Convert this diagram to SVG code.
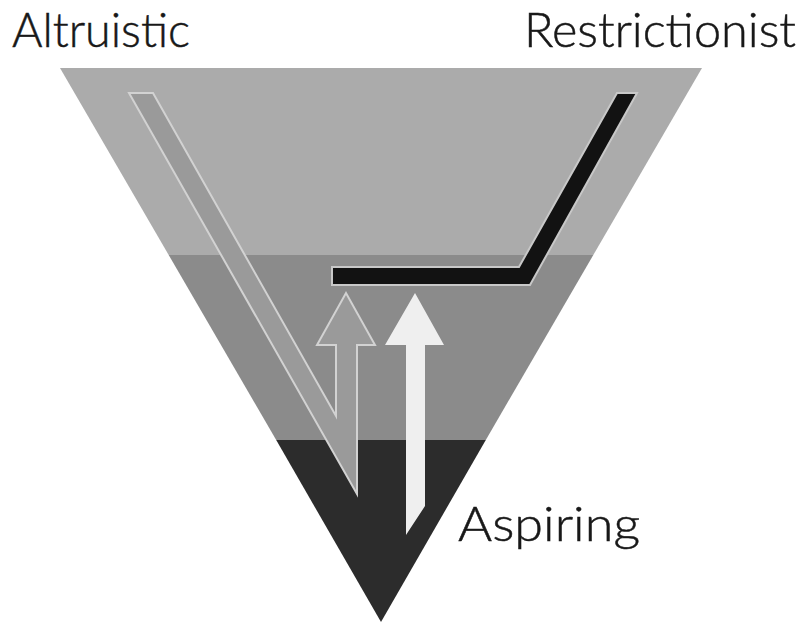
<svg xmlns="http://www.w3.org/2000/svg" width="804" height="626" viewBox="0 0 804 626">
  <style>
    .lbl { font-family: Lato, "Liberation Sans", sans-serif; font-weight: 300; font-size: 48px; fill: #181818; stroke: #181818; stroke-width: 0.5; }
    .band-top { fill: #ababab; }
    .band-mid { fill: #8b8b8b; }
    .band-bot { fill: #2c2c2c; }
    .path-alt { fill: #9a9a9a; stroke: #d2d2d2; stroke-width: 2; stroke-linejoin: miter; }
    .path-res { fill: #121212; stroke: #c8c8c8; stroke-width: 2; stroke-linejoin: miter; }
    .path-asp { fill: #efefef; }
  </style>
  <rect width="804" height="626" fill="#ffffff"/>
  <g id="pyramid">
    <polygon class="band-top" points="60,68 702,68 593.3,255 168.7,255"/>
    <polygon class="band-mid" points="168.7,255 593.3,255 485.8,440 276.2,440"/>
    <polygon class="band-bot" points="276.2,440 485.8,440 381,622"/>
  </g>
  <g id="connectors">
    <polygon id="altruistic-path" class="path-alt" points="129,93 153,93 336,416 336,345 317,345 346,293 375,345 357,345 357,494"/>
    <polygon id="restrictionist-path" class="path-res" points="332,267 519,267 617,93 637,93 530,285 332,285"/>
    <polygon id="aspiring-path" class="path-asp" points="406,535 406,345 385,345 415,293 444,345 425,345 425,506"/>
  </g>
  <g id="node-altruistic">
    <text class="lbl" x="12" y="47" textLength="178" lengthAdjust="spacingAndGlyphs">Altruistic</text>
  </g>
  <g id="node-restrictionist">
    <text class="lbl" x="524" y="47" textLength="272" lengthAdjust="spacingAndGlyphs">Restrictionist</text>
  </g>
  <g id="node-aspiring">
    <text class="lbl" x="458" y="541" textLength="182" lengthAdjust="spacingAndGlyphs">Aspiring</text>
  </g>
</svg>
